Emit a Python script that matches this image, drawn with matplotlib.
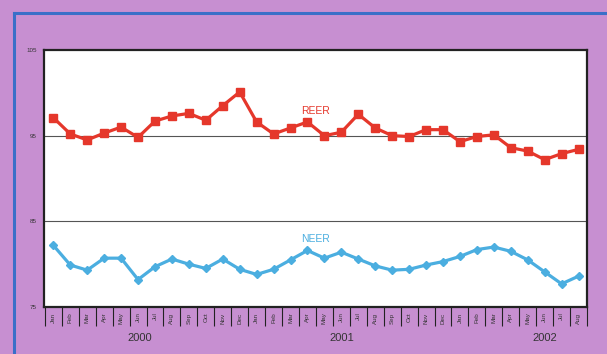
import matplotlib
matplotlib.use("Agg")
import matplotlib.pyplot as plt
from matplotlib.lines import Line2D
import matplotlib.transforms as mtransforms
import numpy as np

plt.rcParams['font.family'] = ['Liberation Sans', 'DejaVu Sans']

months = ["Jan", "Feb", "Mar", "Apr", "May", "Jun", "Jul", "Aug", "Sep", "Oct", "Nov", "Dec",
          "Jan", "Feb", "Mar", "Apr", "May", "Jun", "Jul", "Aug", "Sep", "Oct", "Nov", "Dec",
          "Jan", "Feb", "Mar", "Apr", "May", "Jun", "Jul", "Aug"]
reer = [97.1, 95.2, 94.5, 95.3, 96.0, 94.8, 96.7, 97.3, 97.6, 96.8, 98.5, 100.1,
        96.6, 95.2, 95.9, 96.6, 95.0, 95.4, 97.5, 95.9, 95.0, 94.9, 95.7, 95.7,
        94.3, 94.9, 95.1, 93.6, 93.2, 92.2, 92.9, 93.4]
neer = [82.2, 79.9, 79.3, 80.7, 80.7, 78.2, 79.7, 80.6, 80.0, 79.5, 80.6, 79.4,
        78.8, 79.4, 80.5, 81.6, 80.7, 81.4, 80.6, 79.8, 79.3, 79.4, 79.9, 80.3,
        80.9, 81.7, 82.0, 81.5, 80.5, 79.1, 77.7, 78.6]
years = ["2000", "2001", "2002"]
year_label_x = [5.1, 17.0, 29.0]
yticks = [75, 85, 95, 105]

bg = "#C78FD1"
red = "#E5372B"
blue = "#4BAEE0"

fig = plt.figure(figsize=(6.07, 3.54), dpi=100, facecolor=bg)
ax = fig.add_axes([44/607, 1-307/354, (587-44)/607, (307-50)/354])
ax.set_facecolor("white")

x = np.arange(len(months))
ax.axhline(95, color="#555555", lw=0.8, zorder=1)
ax.axhline(85, color="#555555", lw=0.8, zorder=1)

ax.plot(x, reer, color=red, lw=2.3, marker="s", ms=5.2, zorder=3)
ax.plot(x, neer, color=blue, lw=2.3, marker="D", ms=4.2, zorder=3)

ax.set_xlim(-0.55, len(months) - 0.6)
ax.set_ylim(75, 105)
ax.set_yticks(yticks)
ax.set_yticklabels([str(v) for v in yticks], fontsize=4.5, color="#333333")
ax.tick_params(axis="y", length=0, pad=5)

ax.set_xticks(x)
ax.set_xticklabels(months, rotation=90, fontsize=4.5, color="#333333")
ax.set_xticks(np.arange(-0.5, len(months), 1.0), minor=True)
ax.tick_params(axis="x", which="major", length=0, pad=4)
ax.tick_params(axis="x", which="minor", length=14, width=0.8, color="#222222", direction="out")

for s in ax.spines.values():
    s.set_color("#222222")
    s.set_linewidth(1.6)

ax.text(15.5, 97.9, "REER", color=red, fontsize=7.5, ha="center", va="center", fontweight="medium")
ax.text(15.5, 82.9, "NEER", color=blue, fontsize=7.5, ha="center", va="center", fontweight="medium")

trans = mtransforms.blended_transform_factory(ax.transData, ax.transAxes)
for yx, yl in zip(year_label_x, years):
    ax.text(yx, -0.12, yl, transform=trans, fontsize=8, color="#333333", ha="center", va="center")

# blue frame lines
fig.add_artist(Line2D([14/607, 14/607], [0, 1-13/354], transform=fig.transFigure, color="#3A6FC8", lw=2.2))
fig.add_artist(Line2D([14/607, 1], [1-13/354, 1-13/354], transform=fig.transFigure, color="#3A6FC8", lw=2.2))

fig.savefig("out.png", dpi=100, facecolor=bg)
